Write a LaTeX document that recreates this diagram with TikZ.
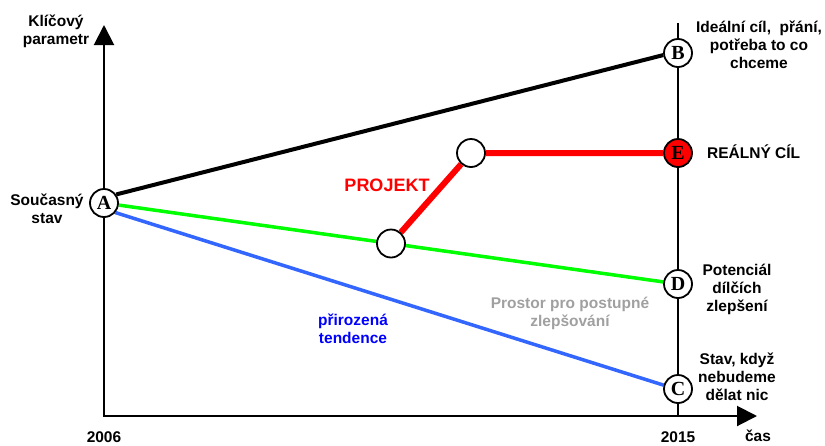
\documentclass[tikz,border=0pt]{standalone}
\usepackage{fontspec}
\setmainfont{Liberation Sans}
\newfontfamily\circfont{Liberation Serif}
\usetikzlibrary{arrows.meta,backgrounds}
\definecolor{lineblue}{RGB}{51,102,255}
\definecolor{txtblue}{RGB}{0,0,255}
\definecolor{greyt}{RGB}{160,160,160}
\definecolor{lgreen}{RGB}{0,255,0}
\begin{document}
\begin{tikzpicture}[x=1pt,y=-1pt,
  lbl/.style={font=\bfseries\fontsize{15.5}{18}\selectfont, align=center, inner sep=0pt},
  pt/.style={circle, draw=black, line width=1.8pt, fill=white, minimum size=28pt, inner sep=0pt, font=\circfont\bfseries\fontsize{20}{20}\selectfont},
  axistip/.style={line width=2pt, {Triangle[length=20pt,width=20pt]}-{Triangle[length=20pt,width=20pt]}},
]
\useasboundingbox (0,0) rectangle (825,445);
\coordinate (Ytop) at (104,25);
\coordinate (O) at (104,416);
\coordinate (Xend) at (757,416);
\coordinate (Rtop) at (678,23);
\coordinate (Rbot) at (678,416);

\node[pt] (A) at (104,203) {A};
\node[pt] (B) at (678,53) {B};
\node[pt, fill=red] (E) at (678,153) {E};
\node[pt] (D) at (678,284) {D};
\node[pt] (C) at (678,389) {C};
\node[pt] (P1) at (391,243.5) {};
\node[pt] (P2) at (471,153) {};

\begin{scope}[on background layer]
\draw[axistip] (Ytop) -- (O) -- (Xend);
\draw[line width=2pt] (Rtop) -- (Rbot);
\draw[line width=4pt] (A.35) -- (B.188);
\draw[line width=3.5pt, lgreen] (A) -- (D);
\draw[line width=3.5pt, lineblue] (A.-40) -- (C.165);
\draw[line width=6pt, red] (P1) -- (P2) -- (E);
\end{scope}

\node[lbl] (kp) at (56,31.5) {Klíčový\\parametr};
\node[lbl] (ideal) at (759,45) {Ideální cíl,~~přání,\\potřeba to co\\chceme};
\node[lbl, anchor=west] (real) at (707,152) {REÁLNÝ CÍL};
\node[lbl] (sou) at (47,208.5) {Současný\\stav};
\node[lbl] (pot) at (737,289) {Potenciál\\dílčích\\zlepšení};
\node[lbl] (stav) at (737,377) {Stav, když\\nebudeme\\dělat nic};
\node[lbl, text=greyt] (prostor) at (570,313) {Prostor pro postupné\\zlepšování};
\node[lbl, text=txtblue] (tend) at (353,329) {přirozená\\tendence};
\node[lbl, text=red, font=\bfseries\fontsize{18}{20}\selectfont] (proj) at (387,185) {PROJEKT};
\node[lbl] (y1) at (104,437) {2006};
\node[lbl] (y2) at (678,437) {2015};
\node[lbl] (cas) at (758,436) {čas};
\end{tikzpicture}
\end{document}
